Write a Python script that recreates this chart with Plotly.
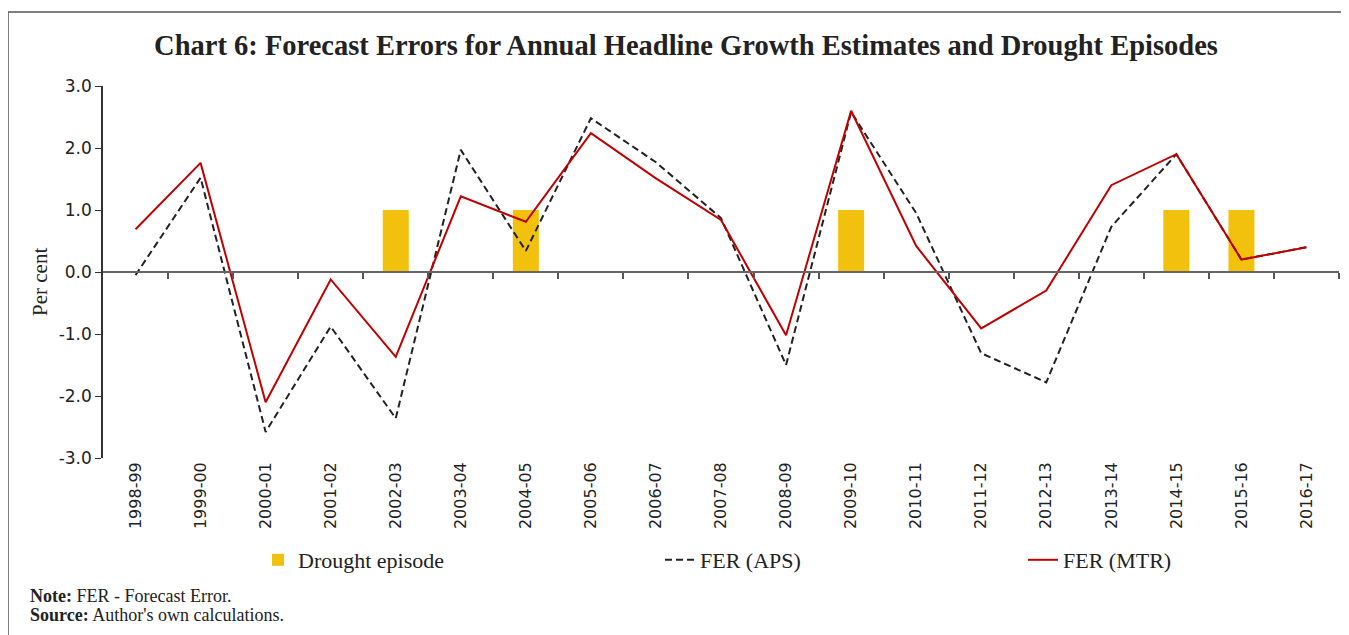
import plotly.graph_objects as go

years = ["1998-99", "1999-00", "2000-01", "2001-02", "2002-03", "2003-04", "2004-05",
         "2005-06", "2006-07", "2007-08", "2008-09", "2009-10", "2010-11", "2011-12",
         "2012-13", "2013-14", "2014-15", "2015-16", "2016-17"]
fer_aps = [-0.05, 1.52, -2.58, -0.88, -2.36, 1.97, 0.34, 2.48, 1.77, 0.87, -1.5, 2.58,
           0.95, -1.31, -1.78, 0.73, 1.9, 0.2, 0.4]
fer_mtr = [0.69, 1.76, -2.1, -0.12, -1.37, 1.22, 0.81, 2.24, 1.51, 0.84, -1.02, 2.6,
           0.42, -0.91, -0.3, 1.4, 1.9, 0.2, 0.4]
drought = [None, None, None, None, 1.0, None, 1.0, None, None, None, None, 1.0,
           None, None, None, None, 1.0, 1.0, None]
y_ticks = [-3, -2, -1, 0, 1, 2, 3]
y_ticktext = ["-3.0", "-2.0", "-1.0", "0.0", "1.0", "2.0", "3.0"]

xpos = list(range(len(years)))
boundaries = [i + 0.5 for i in xpos]

fig = go.Figure()
fig.add_trace(go.Bar(x=xpos, y=drought, name="Drought episode", width=0.4,
                     marker=dict(color="#F2C10E", line=dict(width=0)),
                     legend="legend"))
fig.add_trace(go.Scatter(x=xpos, y=fer_aps, mode="lines", name="FER (APS)",
                         line=dict(color="#222222", width=2, dash="7px,4px"),
                         legend="legend2"))
fig.add_trace(go.Scatter(x=xpos, y=fer_mtr, mode="lines", name="FER (MTR)",
                         line=dict(color="#C00000", width=2),
                         legend="legend3"))
# carrier for the tick-only axis drawn along y = 0
fig.add_trace(go.Scatter(x=[xpos[0]], y=[None], xaxis="x2", mode="lines",
                         showlegend=False, hoverinfo="skip"))

serif = "Liberation Serif"
sans = "DejaVu Sans"

OFF = 8  # page body margin
L, R, T, B = 95, 10, 78, 177
W, H = 1341, 627
pw = W - L - R
ph = H - T - B

def px_x(p):
    return (p - OFF - L) / pw

def px_y(p):
    return (H - B - (p - OFF)) / ph

leg_common = dict(orientation="h", yanchor="middle", xanchor="left",
                  font=dict(family=serif, size=22, color="#222"),
                  bgcolor="rgba(0,0,0,0)", borderwidth=0)

fig.update_layout(
    width=W, height=H,
    margin=dict(l=L, r=R, t=T, b=B),
    paper_bgcolor="white", plot_bgcolor="white",
    title=dict(text="<b>Chart 6: Forecast Errors for Annual Headline Growth Estimates and Drought Episodes</b>",
               font=dict(family=serif, size=28.5, color="#222"),
               xref="paper", x=px_x(686), xanchor="center",
               yref="container", y=1 - (45 - OFF) / H, yanchor="middle"),
    xaxis=dict(range=[-0.5, len(years) - 0.5], tickvals=xpos, ticktext=years,
               tickangle=-90, showline=False, ticks="", showgrid=False, zeroline=False,
               tickfont=dict(family=sans, size=16, color="#222")),
    xaxis2=dict(overlaying="x", matches="x", anchor="free", position=0.5,
                showline=True, linecolor="#666", linewidth=2,
                tickvals=boundaries, ticks="outside", ticklen=6, tickwidth=1.5,
                tickcolor="#555", showticklabels=False, showgrid=False, zeroline=False),
    yaxis=dict(range=[-3, 3], tickvals=y_ticks, ticktext=y_ticktext,
               showline=True, linecolor="#333", linewidth=1.5,
               ticks="outside", ticklen=6, tickcolor="#333",
               showgrid=False, zeroline=False,
               tickfont=dict(family=sans, size=17, color="#222")),
    legend=dict(x=px_x(258), y=px_y(560), **leg_common),
    legend2=dict(x=px_x(660), y=px_y(560), **leg_common),
    legend3=dict(x=px_x(1023), y=px_y(560), **leg_common),
    showlegend=True,
    barmode="overlay",
)

fig.add_annotation(text="Per cent", textangle=-90, xref="paper", yref="paper",
                   x=px_x(40), y=px_y(282), xanchor="center", yanchor="middle",
                   showarrow=False, font=dict(family=serif, size=21, color="#222"))
fig.add_annotation(text="<b>Note:</b> FER - Forecast Error.", xref="paper", yref="paper",
                   x=px_x(28), y=px_y(596), xanchor="left", yanchor="middle",
                   showarrow=False, font=dict(family=serif, size=18, color="#222"))
fig.add_annotation(text="<b>Source:</b> Author's own calculations.", xref="paper", yref="paper",
                   x=px_x(28), y=px_y(615), xanchor="left", yanchor="middle",
                   showarrow=False, font=dict(family=serif, size=18, color="#222"))

# frame (top and left edges)
fig.add_shape(type="line", xref="paper", yref="paper",
              x0=px_x(8), x1=px_x(1360), y0=px_y(12), y1=px_y(12),
              line=dict(color="#555", width=1.5))
fig.add_shape(type="line", xref="paper", yref="paper",
              x0=px_x(8), x1=px_x(8), y0=px_y(12), y1=px_y(650),
              line=dict(color="#555", width=1.5))

fig.write_html("out.html")
